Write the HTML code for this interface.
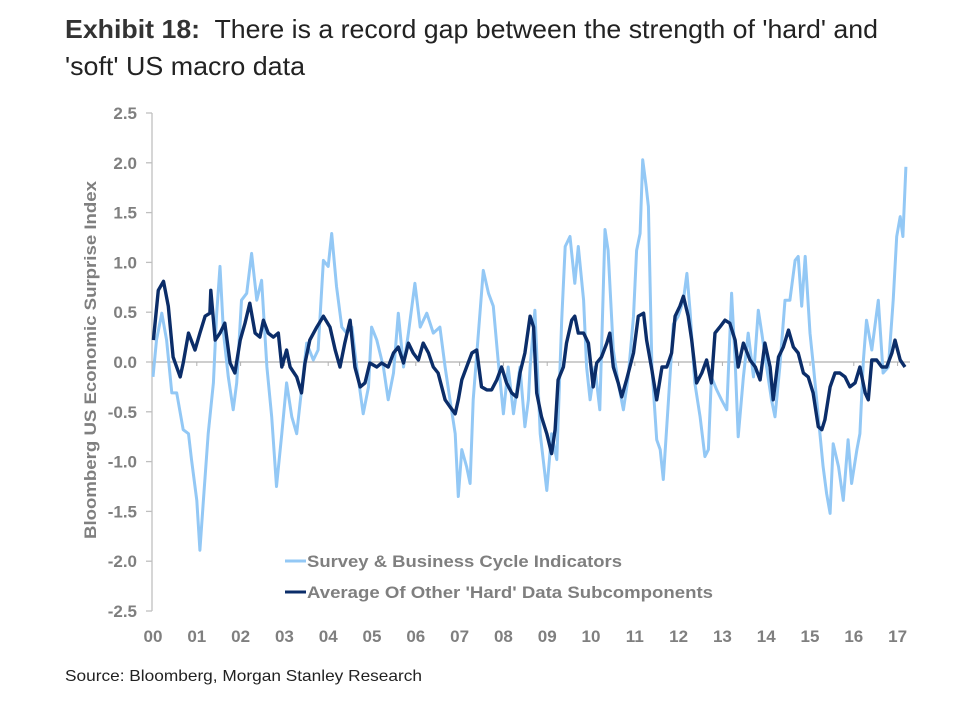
<!DOCTYPE html>
<html><head><meta charset="utf-8"><style>
html,body{margin:0;padding:0;background:#fff;}
svg{display:block;font-family:"Liberation Sans",Arial,sans-serif;}
</style></head><body>
<svg id="chart" width="968" height="714" viewBox="0 0 968 714">
<text x="65" y="38" font-size="26" fill="#222" textLength="813" lengthAdjust="spacingAndGlyphs" xml:space="preserve"><tspan font-weight="bold" fill="#333">Exhibit 18:</tspan>  There is a record gap between the strength of 'hard' and</text>
<text x="65" y="75" font-size="26" fill="#222" textLength="240" lengthAdjust="spacingAndGlyphs">'soft' US macro data</text>
<text transform="translate(96,360) rotate(-90)" text-anchor="middle" font-size="17" font-weight="bold" fill="#7f7f7f" textLength="358" lengthAdjust="spacingAndGlyphs">Bloomberg US Economic Surprise Index</text>
<g id="yaxis"></g>
<g id="xaxis"></g>
<g id="series"></g>
<g>
<line x1="285" y1="561" x2="306" y2="561" stroke="#93c8f5" stroke-width="3"/>
<text x="307" y="567" font-size="17" font-weight="bold" fill="#7f7f7f" textLength="315" lengthAdjust="spacingAndGlyphs">Survey &amp; Business Cycle Indicators</text>
<line x1="285" y1="592" x2="306" y2="592" stroke="#0b2d69" stroke-width="3"/>
<text x="307" y="598" font-size="17" font-weight="bold" fill="#7f7f7f" textLength="406" lengthAdjust="spacingAndGlyphs">Average Of Other 'Hard' Data Subcomponents</text>
</g>
<text x="65" y="681" font-size="16" fill="#222" textLength="357" lengthAdjust="spacingAndGlyphs">Source: Bloomberg, Morgan Stanley Research</text>
</svg>
<script>
const yTicks=[2.5,2.0,1.5,1.0,0.5,0.0,-0.5,-1.0,-1.5,-2.0,-2.5];
const yTickLabels=["2.5","2.0","1.5","1.0","0.5","0.0","-0.5","-1.0","-1.5","-2.0","-2.5"];
const xYears=[0,1,2,3,4,5,6,7,8,9,10,11,12,13,14,15,16,17];
const xLabels=["00","01","02","03","04","05","06","07","08","09","10","11","12","13","14","15","16","17"];
const surveyT=[0.00,0.08,0.20,0.31,0.43,0.54,0.69,0.81,0.88,1.00,1.07,1.15,1.26,1.38,1.45,1.53,1.61,1.72,1.83,1.91,2.02,2.14,2.25,2.37,2.48,2.60,2.71,2.82,2.94,3.05,3.17,3.28,3.39,3.51,3.66,3.77,3.89,4.00,4.08,4.19,4.31,4.42,4.54,4.65,4.80,4.92,4.99,5.11,5.26,5.37,5.49,5.60,5.72,5.83,5.98,6.10,6.25,6.40,6.55,6.67,6.78,6.90,6.97,7.05,7.16,7.24,7.31,7.43,7.54,7.66,7.77,7.88,8.00,8.11,8.23,8.38,8.49,8.57,8.61,8.72,8.84,8.99,9.10,9.22,9.33,9.41,9.52,9.63,9.71,9.83,9.90,9.98,10.09,10.20,10.32,10.39,10.51,10.62,10.74,10.85,10.97,11.04,11.12,11.18,11.26,11.31,11.39,11.50,11.58,11.65,11.77,11.88,11.99,12.11,12.19,12.26,12.37,12.49,12.60,12.68,12.75,12.87,12.98,13.10,13.21,13.29,13.36,13.48,13.59,13.71,13.82,13.90,14.01,14.12,14.20,14.31,14.43,14.54,14.66,14.73,14.81,14.89,15.00,15.08,15.19,15.30,15.38,15.46,15.53,15.65,15.76,15.87,15.95,16.07,16.14,16.22,16.29,16.41,16.56,16.67,16.79,16.90,16.98,17.06,17.12,17.19];
const surveyV=[-0.15,0.22,0.49,0.22,-0.31,-0.31,-0.68,-0.72,-0.98,-1.39,-1.89,-1.39,-0.72,-0.21,0.46,0.96,0.29,-0.15,-0.48,-0.21,0.62,0.69,1.09,0.62,0.82,-0.05,-0.55,-1.25,-0.72,-0.21,-0.55,-0.72,-0.28,0.19,0.02,0.12,1.02,0.96,1.29,0.76,0.35,0.29,0.35,-0.05,-0.52,-0.25,0.35,0.22,-0.05,-0.38,-0.11,0.49,-0.05,0.29,0.79,0.35,0.49,0.29,0.35,-0.05,-0.38,-0.72,-1.35,-0.88,-1.05,-1.22,-0.38,0.29,0.92,0.69,0.56,0.02,-0.52,-0.05,-0.52,-0.05,-0.65,-0.38,-0.05,0.52,-0.72,-1.29,-0.72,-0.98,0.42,1.16,1.26,0.79,1.16,0.62,-0.05,-0.38,-0.05,-0.48,1.33,1.12,0.12,-0.21,-0.48,-0.15,0.46,1.12,1.29,2.03,1.76,1.56,-0.05,-0.78,-0.88,-1.18,-0.38,0.38,0.46,0.62,0.89,0.52,-0.21,-0.55,-0.95,-0.88,-0.15,-0.28,-0.38,-0.48,0.69,0.02,-0.75,-0.15,0.29,-0.15,0.52,0.29,-0.05,-0.38,-0.55,-0.05,0.62,0.62,1.02,1.06,0.56,1.06,0.29,-0.05,-0.55,-1.05,-1.32,-1.52,-0.82,-1.05,-1.39,-0.78,-1.22,-0.88,-0.72,0.02,0.42,0.12,0.62,-0.11,-0.05,0.62,1.26,1.46,1.26,1.96];
const hardT=[0.01,0.12,0.24,0.35,0.46,0.62,0.69,0.81,0.96,1.07,1.19,1.30,1.32,1.42,1.53,1.64,1.76,1.87,1.99,2.10,2.21,2.33,2.44,2.52,2.63,2.75,2.86,2.94,3.05,3.13,3.28,3.39,3.47,3.58,3.74,3.89,4.04,4.16,4.27,4.38,4.50,4.61,4.73,4.84,4.95,5.11,5.22,5.37,5.49,5.60,5.72,5.83,5.94,6.06,6.17,6.29,6.40,6.51,6.67,6.78,6.90,6.97,7.05,7.16,7.28,7.39,7.50,7.62,7.73,7.85,7.96,8.07,8.19,8.30,8.38,8.49,8.61,8.69,8.76,8.87,8.99,9.10,9.18,9.25,9.37,9.44,9.56,9.63,9.71,9.83,9.94,10.05,10.13,10.24,10.36,10.43,10.51,10.62,10.70,10.81,10.97,11.08,11.20,11.27,11.39,11.50,11.62,11.73,11.84,11.92,12.03,12.11,12.22,12.30,12.41,12.53,12.64,12.75,12.83,12.94,13.06,13.17,13.29,13.36,13.48,13.63,13.75,13.86,13.97,14.09,14.16,14.28,14.39,14.51,14.62,14.73,14.85,14.96,15.07,15.19,15.27,15.34,15.46,15.57,15.68,15.80,15.91,16.03,16.14,16.26,16.33,16.41,16.52,16.64,16.75,16.87,16.94,17.06,17.17];
const hardV=[0.22,0.72,0.81,0.56,0.05,-0.15,-0.01,0.29,0.12,0.29,0.46,0.49,0.72,0.22,0.29,0.39,-0.01,-0.11,0.22,0.39,0.59,0.29,0.25,0.42,0.29,0.25,0.29,-0.05,0.12,-0.05,-0.15,-0.31,-0.01,0.22,0.35,0.46,0.35,0.12,-0.05,0.19,0.42,-0.05,-0.25,-0.21,-0.01,-0.05,-0.01,-0.05,0.09,0.15,-0.01,0.19,0.09,0.02,0.19,0.09,-0.05,-0.11,-0.38,-0.45,-0.52,-0.38,-0.18,-0.05,0.09,0.12,-0.25,-0.28,-0.28,-0.18,-0.05,-0.21,-0.31,-0.35,-0.11,0.09,0.46,0.35,-0.31,-0.55,-0.72,-0.92,-0.68,-0.18,-0.05,0.19,0.42,0.46,0.29,0.29,0.19,-0.25,-0.01,0.05,0.19,0.29,-0.05,-0.21,-0.35,-0.18,0.09,0.46,0.49,0.22,-0.08,-0.38,-0.05,-0.05,0.09,0.46,0.56,0.66,0.46,0.22,-0.21,-0.11,0.02,-0.21,0.29,0.35,0.42,0.39,0.22,-0.05,0.19,0.02,-0.05,-0.18,0.19,-0.05,-0.38,0.05,0.15,0.32,0.15,0.09,-0.11,-0.15,-0.31,-0.65,-0.68,-0.58,-0.25,-0.11,-0.11,-0.15,-0.25,-0.21,-0.05,-0.31,-0.38,0.02,0.02,-0.05,-0.05,0.09,0.22,0.02,-0.05];

const NS='http://www.w3.org/2000/svg';
const x0=153, pxPerYear=43.8, yZero=362, pxPerUnit=99.6;
function xScale(t){return x0+t*pxPerYear;}
function yScale(v){return yZero-v*pxPerUnit;}
function mk(tag,attrs,parent){const e=document.createElementNS(NS,tag);for(const k in attrs)e.setAttribute(k,attrs[k]);parent.appendChild(e);return e;}

const yaxis=document.getElementById('yaxis');
const axLine=mk('line',{x1:152,y1:yScale(2.5),x2:152,y2:yScale(-2.5),stroke:'#bfbfbf','stroke-width':1.3},yaxis);


yTicks.forEach((v,i)=>{
  const tk=mk('line',{x1:146,y1:yScale(v),x2:152,y2:yScale(v),stroke:'#bfbfbf','stroke-width':1.3},yaxis);
  
  
  const tx=mk('text',{x:137,y:yScale(v)+6,'text-anchor':'end','font-size':17,'font-weight':'bold',fill:'#7f7f7f'},yaxis);
  tx.textContent=yTickLabels[i];
  
  
});
const xaxis=document.getElementById('xaxis');
const zl=mk('line',{x1:152,y1:yZero,x2:910,y2:yZero,stroke:'#b0b0b0','stroke-width':1.3},xaxis);


xYears.forEach((t,i)=>{
  const tk=mk('line',{x1:xScale(t),y1:yZero,x2:xScale(t),y2:yZero+4,stroke:'#b0b0b0','stroke-width':1},xaxis);
  
  
  const tx=mk('text',{x:xScale(t),y:642,'text-anchor':'middle','font-size':17,'font-weight':'bold',fill:'#7f7f7f'},xaxis);
  tx.textContent=xLabels[i];
  
  
});
function pts(T,V){return T.map((t,i)=>xScale(t).toFixed(1)+','+yScale(V[i]).toFixed(1)).join(' ');}
const series=document.getElementById('series');
const l1=mk('polyline',{points:pts(surveyT,surveyV),fill:'none',stroke:'#93c8f5','stroke-width':3,'stroke-linejoin':'round'},series);


const l2=mk('polyline',{points:pts(hardT,hardV),fill:'none',stroke:'#0b2d69','stroke-width':3.4,'stroke-linejoin':'round'},series);


</script>
</body></html>
